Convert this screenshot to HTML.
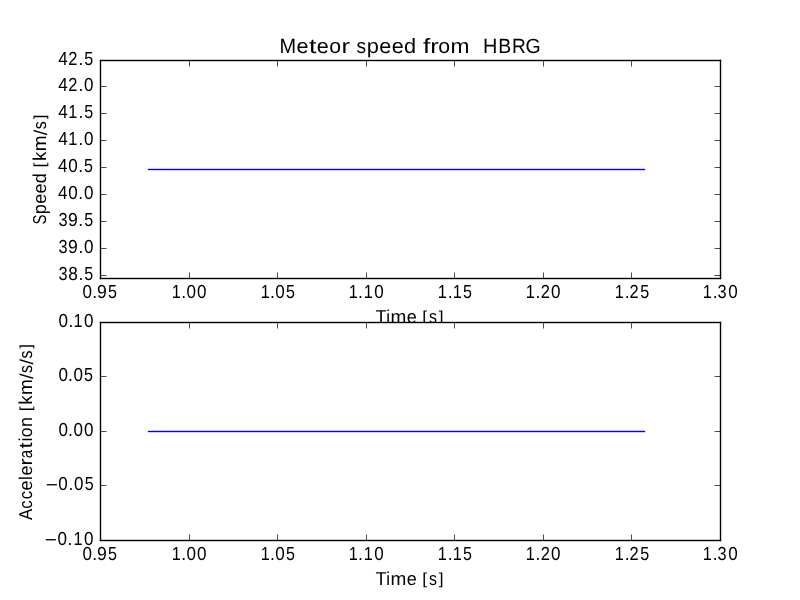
<!DOCTYPE html>
<html><head><meta charset="utf-8"><title>Meteor speed from HBRG</title>
<style>
html,body{margin:0;padding:0;background:#fff;width:800px;height:600px;overflow:hidden}
svg{display:block}
text{font-family:"Liberation Sans",sans-serif;fill:#000}
</style></head><body>
<svg width="800" height="600" viewBox="0 0 800 600" shape-rendering="crispEdges" text-rendering="geometricPrecision">
<defs><filter id="g" x="0" y="0" width="800" height="600" filterUnits="userSpaceOnUse" color-interpolation-filters="sRGB"><feOffset dx="0" dy="0"/></filter></defs>
<rect x="0" y="0" width="800" height="600" fill="#fff"/>
<rect x="100" y="60" width="621" height="219" fill="#fff"/>
<rect x="148" y="168" width="497" height="1" fill="#cdcdff"/>
<rect x="148" y="170" width="497" height="1" fill="#cdcdff"/>
<rect x="147" y="168" width="1" height="1" fill="#f5f5ff"/>
<rect x="147" y="170" width="1" height="1" fill="#f5f5ff"/>
<rect x="147" y="169" width="1" height="1" fill="#cdcdff"/>
<rect x="645" y="168" width="1" height="1" fill="#f5f5ff"/>
<rect x="645" y="170" width="1" height="1" fill="#f5f5ff"/>
<rect x="645" y="169" width="1" height="1" fill="#cdcdff"/>
<rect x="148" y="169" width="497" height="1" fill="#0000ff"/>
<rect x="189" y="272" width="1" height="1" fill="#a6a6a6"/>
<rect x="189" y="273" width="1" height="4" fill="#4d4d4d"/>
<rect x="189" y="66" width="1" height="1" fill="#a6a6a6"/>
<rect x="189" y="62" width="1" height="4" fill="#4d4d4d"/>
<rect x="277" y="272" width="1" height="1" fill="#a6a6a6"/>
<rect x="277" y="273" width="1" height="4" fill="#4d4d4d"/>
<rect x="277" y="66" width="1" height="1" fill="#a6a6a6"/>
<rect x="277" y="62" width="1" height="4" fill="#4d4d4d"/>
<rect x="366" y="272" width="1" height="1" fill="#a6a6a6"/>
<rect x="366" y="273" width="1" height="4" fill="#4d4d4d"/>
<rect x="366" y="66" width="1" height="1" fill="#a6a6a6"/>
<rect x="366" y="62" width="1" height="4" fill="#4d4d4d"/>
<rect x="454" y="272" width="1" height="1" fill="#a6a6a6"/>
<rect x="454" y="273" width="1" height="4" fill="#4d4d4d"/>
<rect x="454" y="66" width="1" height="1" fill="#a6a6a6"/>
<rect x="454" y="62" width="1" height="4" fill="#4d4d4d"/>
<rect x="543" y="272" width="1" height="1" fill="#a6a6a6"/>
<rect x="543" y="273" width="1" height="4" fill="#4d4d4d"/>
<rect x="543" y="66" width="1" height="1" fill="#a6a6a6"/>
<rect x="543" y="62" width="1" height="4" fill="#4d4d4d"/>
<rect x="631" y="272" width="1" height="1" fill="#a6a6a6"/>
<rect x="631" y="273" width="1" height="4" fill="#4d4d4d"/>
<rect x="631" y="66" width="1" height="1" fill="#a6a6a6"/>
<rect x="631" y="62" width="1" height="4" fill="#4d4d4d"/>
<rect x="106" y="86" width="1" height="1" fill="#a6a6a6"/>
<rect x="102" y="86" width="4" height="1" fill="#4d4d4d"/>
<rect x="714" y="86" width="1" height="1" fill="#a6a6a6"/>
<rect x="715" y="86" width="4" height="1" fill="#4d4d4d"/>
<rect x="106" y="113" width="1" height="1" fill="#a6a6a6"/>
<rect x="102" y="113" width="4" height="1" fill="#4d4d4d"/>
<rect x="714" y="113" width="1" height="1" fill="#a6a6a6"/>
<rect x="715" y="113" width="4" height="1" fill="#4d4d4d"/>
<rect x="106" y="140" width="1" height="1" fill="#a6a6a6"/>
<rect x="102" y="140" width="4" height="1" fill="#4d4d4d"/>
<rect x="714" y="140" width="1" height="1" fill="#a6a6a6"/>
<rect x="715" y="140" width="4" height="1" fill="#4d4d4d"/>
<rect x="106" y="167" width="1" height="1" fill="#a6a6a6"/>
<rect x="102" y="167" width="4" height="1" fill="#4d4d4d"/>
<rect x="714" y="167" width="1" height="1" fill="#a6a6a6"/>
<rect x="715" y="167" width="4" height="1" fill="#4d4d4d"/>
<rect x="106" y="194" width="1" height="1" fill="#a6a6a6"/>
<rect x="102" y="194" width="4" height="1" fill="#4d4d4d"/>
<rect x="714" y="194" width="1" height="1" fill="#a6a6a6"/>
<rect x="715" y="194" width="4" height="1" fill="#4d4d4d"/>
<rect x="106" y="221" width="1" height="1" fill="#a6a6a6"/>
<rect x="102" y="221" width="4" height="1" fill="#4d4d4d"/>
<rect x="714" y="221" width="1" height="1" fill="#a6a6a6"/>
<rect x="715" y="221" width="4" height="1" fill="#4d4d4d"/>
<rect x="106" y="248" width="1" height="1" fill="#a6a6a6"/>
<rect x="102" y="248" width="4" height="1" fill="#4d4d4d"/>
<rect x="714" y="248" width="1" height="1" fill="#a6a6a6"/>
<rect x="715" y="248" width="4" height="1" fill="#4d4d4d"/>
<rect x="106" y="275" width="1" height="1" fill="#a6a6a6"/>
<rect x="102" y="275" width="4" height="1" fill="#4d4d4d"/>
<rect x="714" y="275" width="1" height="1" fill="#a6a6a6"/>
<rect x="715" y="275" width="4" height="1" fill="#4d4d4d"/>
<rect x="100" y="59" width="621" height="1" fill="#000" fill-opacity="0.196"/>
<rect x="100" y="61" width="621" height="1" fill="#000" fill-opacity="0.196"/>
<rect x="100" y="277" width="621" height="1" fill="#000" fill-opacity="0.196"/>
<rect x="100" y="279" width="621" height="1" fill="#000" fill-opacity="0.196"/>
<rect x="99" y="60" width="1" height="219" fill="#000" fill-opacity="0.196"/>
<rect x="101" y="60" width="1" height="219" fill="#000" fill-opacity="0.196"/>
<rect x="719" y="60" width="1" height="219" fill="#000" fill-opacity="0.196"/>
<rect x="721" y="60" width="1" height="219" fill="#000" fill-opacity="0.196"/>
<rect x="189" y="277" width="1" height="1" fill="#3e3e3e"/>
<rect x="189" y="61" width="1" height="1" fill="#3e3e3e"/>
<rect x="277" y="277" width="1" height="1" fill="#3e3e3e"/>
<rect x="277" y="61" width="1" height="1" fill="#3e3e3e"/>
<rect x="366" y="277" width="1" height="1" fill="#3e3e3e"/>
<rect x="366" y="61" width="1" height="1" fill="#3e3e3e"/>
<rect x="454" y="277" width="1" height="1" fill="#3e3e3e"/>
<rect x="454" y="61" width="1" height="1" fill="#3e3e3e"/>
<rect x="543" y="277" width="1" height="1" fill="#3e3e3e"/>
<rect x="543" y="61" width="1" height="1" fill="#3e3e3e"/>
<rect x="631" y="277" width="1" height="1" fill="#3e3e3e"/>
<rect x="631" y="61" width="1" height="1" fill="#3e3e3e"/>
<rect x="101" y="86" width="1" height="1" fill="#3e3e3e"/>
<rect x="719" y="86" width="1" height="1" fill="#3e3e3e"/>
<rect x="101" y="113" width="1" height="1" fill="#3e3e3e"/>
<rect x="719" y="113" width="1" height="1" fill="#3e3e3e"/>
<rect x="101" y="140" width="1" height="1" fill="#3e3e3e"/>
<rect x="719" y="140" width="1" height="1" fill="#3e3e3e"/>
<rect x="101" y="167" width="1" height="1" fill="#3e3e3e"/>
<rect x="719" y="167" width="1" height="1" fill="#3e3e3e"/>
<rect x="101" y="194" width="1" height="1" fill="#3e3e3e"/>
<rect x="719" y="194" width="1" height="1" fill="#3e3e3e"/>
<rect x="101" y="221" width="1" height="1" fill="#3e3e3e"/>
<rect x="719" y="221" width="1" height="1" fill="#3e3e3e"/>
<rect x="101" y="248" width="1" height="1" fill="#3e3e3e"/>
<rect x="719" y="248" width="1" height="1" fill="#3e3e3e"/>
<rect x="101" y="275" width="1" height="1" fill="#3e3e3e"/>
<rect x="719" y="275" width="1" height="1" fill="#3e3e3e"/>
<rect x="99" y="59" width="1" height="1" fill="#ebebeb"/>
<rect x="100" y="59" width="1" height="1" fill="#a4a4a4"/>
<rect x="99" y="60" width="1" height="1" fill="#a4a4a4"/>
<rect x="101" y="61" width="1" height="1" fill="#a4a4a4"/>
<rect x="99" y="279" width="1" height="1" fill="#ebebeb"/>
<rect x="100" y="279" width="1" height="1" fill="#a4a4a4"/>
<rect x="99" y="278" width="1" height="1" fill="#a4a4a4"/>
<rect x="101" y="277" width="1" height="1" fill="#a4a4a4"/>
<rect x="721" y="59" width="1" height="1" fill="#ebebeb"/>
<rect x="720" y="59" width="1" height="1" fill="#a4a4a4"/>
<rect x="721" y="60" width="1" height="1" fill="#a4a4a4"/>
<rect x="719" y="61" width="1" height="1" fill="#a4a4a4"/>
<rect x="721" y="279" width="1" height="1" fill="#ebebeb"/>
<rect x="720" y="279" width="1" height="1" fill="#a4a4a4"/>
<rect x="721" y="278" width="1" height="1" fill="#a4a4a4"/>
<rect x="719" y="277" width="1" height="1" fill="#a4a4a4"/>
<rect x="100" y="60" width="621" height="1" fill="#000"/>
<rect x="100" y="278" width="621" height="1" fill="#000"/>
<rect x="100" y="60" width="1" height="219" fill="#000"/>
<rect x="720" y="60" width="1" height="219" fill="#000"/>
<g filter="url(#g)"><text transform="translate(375.49 323.00) scale(0.9738 1.0000)" font-size="18.67">T</text>
<text transform="translate(386.13 323.00) scale(0.9127 1.0000)" font-size="18.67">i</text>
<text transform="translate(390.58 323.00) scale(1.0173 1.0000)" font-size="18.67">m</text>
<text transform="translate(406.73 323.00) scale(0.9644 1.0000)" font-size="18.67">e</text>
<text transform="translate(422.27 323.00) translate(0 -1.11) scale(0.9302 0.8540)" font-size="18.67">[</text>
<text transform="translate(429.03 323.00) scale(0.8559 1.0000)" font-size="18.67">s</text>
<text transform="translate(438.81 323.00) translate(0 -1.11) scale(0.9302 0.8540)" font-size="18.67">]</text></g>
<rect x="100" y="322" width="621" height="219" fill="#fff"/>
<rect x="148" y="430" width="497" height="1" fill="#cdcdff"/>
<rect x="148" y="432" width="497" height="1" fill="#cdcdff"/>
<rect x="147" y="430" width="1" height="1" fill="#f5f5ff"/>
<rect x="147" y="432" width="1" height="1" fill="#f5f5ff"/>
<rect x="147" y="431" width="1" height="1" fill="#cdcdff"/>
<rect x="645" y="430" width="1" height="1" fill="#f5f5ff"/>
<rect x="645" y="432" width="1" height="1" fill="#f5f5ff"/>
<rect x="645" y="431" width="1" height="1" fill="#cdcdff"/>
<rect x="148" y="431" width="497" height="1" fill="#0000ff"/>
<rect x="189" y="534" width="1" height="1" fill="#a6a6a6"/>
<rect x="189" y="535" width="1" height="4" fill="#4d4d4d"/>
<rect x="189" y="328" width="1" height="1" fill="#a6a6a6"/>
<rect x="189" y="324" width="1" height="4" fill="#4d4d4d"/>
<rect x="277" y="534" width="1" height="1" fill="#a6a6a6"/>
<rect x="277" y="535" width="1" height="4" fill="#4d4d4d"/>
<rect x="277" y="328" width="1" height="1" fill="#a6a6a6"/>
<rect x="277" y="324" width="1" height="4" fill="#4d4d4d"/>
<rect x="366" y="534" width="1" height="1" fill="#a6a6a6"/>
<rect x="366" y="535" width="1" height="4" fill="#4d4d4d"/>
<rect x="366" y="328" width="1" height="1" fill="#a6a6a6"/>
<rect x="366" y="324" width="1" height="4" fill="#4d4d4d"/>
<rect x="454" y="534" width="1" height="1" fill="#a6a6a6"/>
<rect x="454" y="535" width="1" height="4" fill="#4d4d4d"/>
<rect x="454" y="328" width="1" height="1" fill="#a6a6a6"/>
<rect x="454" y="324" width="1" height="4" fill="#4d4d4d"/>
<rect x="543" y="534" width="1" height="1" fill="#a6a6a6"/>
<rect x="543" y="535" width="1" height="4" fill="#4d4d4d"/>
<rect x="543" y="328" width="1" height="1" fill="#a6a6a6"/>
<rect x="543" y="324" width="1" height="4" fill="#4d4d4d"/>
<rect x="631" y="534" width="1" height="1" fill="#a6a6a6"/>
<rect x="631" y="535" width="1" height="4" fill="#4d4d4d"/>
<rect x="631" y="328" width="1" height="1" fill="#a6a6a6"/>
<rect x="631" y="324" width="1" height="4" fill="#4d4d4d"/>
<rect x="106" y="376" width="1" height="1" fill="#a6a6a6"/>
<rect x="102" y="376" width="4" height="1" fill="#4d4d4d"/>
<rect x="714" y="376" width="1" height="1" fill="#a6a6a6"/>
<rect x="715" y="376" width="4" height="1" fill="#4d4d4d"/>
<rect x="106" y="431" width="1" height="1" fill="#a6a6a6"/>
<rect x="102" y="431" width="4" height="1" fill="#4d4d4d"/>
<rect x="714" y="431" width="1" height="1" fill="#a6a6a6"/>
<rect x="715" y="431" width="4" height="1" fill="#4d4d4d"/>
<rect x="106" y="485" width="1" height="1" fill="#a6a6a6"/>
<rect x="102" y="485" width="4" height="1" fill="#4d4d4d"/>
<rect x="714" y="485" width="1" height="1" fill="#a6a6a6"/>
<rect x="715" y="485" width="4" height="1" fill="#4d4d4d"/>
<rect x="100" y="321" width="621" height="1" fill="#000" fill-opacity="0.196"/>
<rect x="100" y="323" width="621" height="1" fill="#000" fill-opacity="0.196"/>
<rect x="100" y="539" width="621" height="1" fill="#000" fill-opacity="0.196"/>
<rect x="100" y="541" width="621" height="1" fill="#000" fill-opacity="0.196"/>
<rect x="99" y="322" width="1" height="219" fill="#000" fill-opacity="0.196"/>
<rect x="101" y="322" width="1" height="219" fill="#000" fill-opacity="0.196"/>
<rect x="719" y="322" width="1" height="219" fill="#000" fill-opacity="0.196"/>
<rect x="721" y="322" width="1" height="219" fill="#000" fill-opacity="0.196"/>
<rect x="189" y="539" width="1" height="1" fill="#3e3e3e"/>
<rect x="189" y="323" width="1" height="1" fill="#3e3e3e"/>
<rect x="277" y="539" width="1" height="1" fill="#3e3e3e"/>
<rect x="277" y="323" width="1" height="1" fill="#3e3e3e"/>
<rect x="366" y="539" width="1" height="1" fill="#3e3e3e"/>
<rect x="366" y="323" width="1" height="1" fill="#3e3e3e"/>
<rect x="454" y="539" width="1" height="1" fill="#3e3e3e"/>
<rect x="454" y="323" width="1" height="1" fill="#3e3e3e"/>
<rect x="543" y="539" width="1" height="1" fill="#3e3e3e"/>
<rect x="543" y="323" width="1" height="1" fill="#3e3e3e"/>
<rect x="631" y="539" width="1" height="1" fill="#3e3e3e"/>
<rect x="631" y="323" width="1" height="1" fill="#3e3e3e"/>
<rect x="101" y="376" width="1" height="1" fill="#3e3e3e"/>
<rect x="719" y="376" width="1" height="1" fill="#3e3e3e"/>
<rect x="101" y="431" width="1" height="1" fill="#3e3e3e"/>
<rect x="719" y="431" width="1" height="1" fill="#3e3e3e"/>
<rect x="101" y="485" width="1" height="1" fill="#3e3e3e"/>
<rect x="719" y="485" width="1" height="1" fill="#3e3e3e"/>
<rect x="99" y="321" width="1" height="1" fill="#ebebeb"/>
<rect x="100" y="321" width="1" height="1" fill="#a4a4a4"/>
<rect x="99" y="322" width="1" height="1" fill="#a4a4a4"/>
<rect x="101" y="323" width="1" height="1" fill="#a4a4a4"/>
<rect x="99" y="541" width="1" height="1" fill="#ebebeb"/>
<rect x="100" y="541" width="1" height="1" fill="#a4a4a4"/>
<rect x="99" y="540" width="1" height="1" fill="#a4a4a4"/>
<rect x="101" y="539" width="1" height="1" fill="#a4a4a4"/>
<rect x="721" y="321" width="1" height="1" fill="#ebebeb"/>
<rect x="720" y="321" width="1" height="1" fill="#a4a4a4"/>
<rect x="721" y="322" width="1" height="1" fill="#a4a4a4"/>
<rect x="719" y="323" width="1" height="1" fill="#a4a4a4"/>
<rect x="721" y="541" width="1" height="1" fill="#ebebeb"/>
<rect x="720" y="541" width="1" height="1" fill="#a4a4a4"/>
<rect x="721" y="540" width="1" height="1" fill="#a4a4a4"/>
<rect x="719" y="539" width="1" height="1" fill="#a4a4a4"/>
<rect x="100" y="322" width="621" height="1" fill="#000"/>
<rect x="100" y="540" width="621" height="1" fill="#000"/>
<rect x="100" y="322" width="1" height="219" fill="#000"/>
<rect x="720" y="322" width="1" height="219" fill="#000"/>
<g filter="url(#g)">
<text transform="translate(279.38 53.00) scale(0.9680 1.0000)" font-size="20.60">M</text>
<text transform="translate(296.61 53.00) scale(1.0487 1.0000)" font-size="20.60">e</text>
<text transform="translate(308.93 53.00) scale(1.2976 1.0000)" font-size="20.60">t</text>
<text transform="translate(316.86 53.00) scale(1.0487 1.0000)" font-size="20.60">e</text>
<text transform="translate(329.26 53.00) scale(1.0321 1.0000)" font-size="20.60">o</text>
<text transform="translate(341.41 53.00) scale(1.2439 1.0000)" font-size="20.60">r</text>
<text transform="translate(356.60 53.00) scale(0.9306 1.0000)" font-size="20.60">s</text>
<text transform="translate(366.84 53.00) scale(1.0563 1.0000)" font-size="20.60">p</text>
<text transform="translate(379.36 53.00) scale(1.0487 1.0000)" font-size="20.60">e</text>
<text transform="translate(391.74 53.00) scale(1.0487 1.0000)" font-size="20.60">e</text>
<text transform="translate(404.12 53.00) scale(1.0552 1.0000)" font-size="20.60">d</text>
<text transform="translate(422.90 53.00) scale(1.2748 1.0000)" font-size="20.60">f</text>
<text transform="translate(430.29 53.00) scale(1.2439 1.0000)" font-size="20.60">r</text>
<text transform="translate(438.26 53.00) scale(1.0321 1.0000)" font-size="20.60">o</text>
<text transform="translate(450.60 53.00) scale(1.1062 1.0000)" font-size="20.60">m</text>
<text transform="translate(483.01 53.00) scale(0.9658 1.0000)" font-size="20.60">H</text>
<text transform="translate(498.17 53.00) scale(0.9433 1.0000)" font-size="20.60">B</text>
<text transform="translate(511.94 53.00) scale(0.9286 1.0000)" font-size="20.60">R</text>
<text transform="translate(525.57 53.00) scale(0.9469 1.0000)" font-size="20.60">G</text>
<text transform="translate(82.45 298.00) scale(0.9049 1.0000)" font-size="18.83">0</text>
<text transform="translate(92.36 298.00) scale(0.9288 1.0000)" font-size="18.83">.</text>
<text transform="translate(97.03 298.00) scale(0.9346 1.0000)" font-size="18.83">9</text>
<text transform="translate(108.02 298.00) scale(0.8540 1.0000)" font-size="18.83">5</text>
<text transform="translate(82.53 560.00) scale(0.9049 1.0000)" font-size="18.83">0</text>
<text transform="translate(92.36 560.00) scale(0.9288 1.0000)" font-size="18.83">.</text>
<text transform="translate(97.03 560.00) scale(0.9346 1.0000)" font-size="18.83">9</text>
<text transform="translate(108.02 560.00) scale(0.8540 1.0000)" font-size="18.83">5</text>
<text transform="translate(171.65 298.00) scale(0.8642 1.0000)" font-size="18.83">1</text>
<text transform="translate(181.15 298.00) scale(0.9288 1.0000)" font-size="18.83">.</text>
<text transform="translate(186.58 298.00) scale(0.9049 1.0000)" font-size="18.83">0</text>
<text transform="translate(197.08 298.00) scale(0.9049 1.0000)" font-size="18.83">0</text>
<text transform="translate(171.65 560.00) scale(0.8642 1.0000)" font-size="18.83">1</text>
<text transform="translate(181.15 560.00) scale(0.9288 1.0000)" font-size="18.83">.</text>
<text transform="translate(186.58 560.00) scale(0.9049 1.0000)" font-size="18.83">0</text>
<text transform="translate(197.08 560.00) scale(0.9049 1.0000)" font-size="18.83">0</text>
<text transform="translate(260.73 298.00) scale(0.8642 1.0000)" font-size="18.83">1</text>
<text transform="translate(269.99 298.00) scale(0.9288 1.0000)" font-size="18.83">.</text>
<text transform="translate(275.18 298.00) scale(0.9049 1.0000)" font-size="18.83">0</text>
<text transform="translate(285.88 298.00) scale(0.8540 1.0000)" font-size="18.83">5</text>
<text transform="translate(260.73 560.00) scale(0.8642 1.0000)" font-size="18.83">1</text>
<text transform="translate(269.99 560.00) scale(0.9288 1.0000)" font-size="18.83">.</text>
<text transform="translate(275.18 560.00) scale(0.9049 1.0000)" font-size="18.83">0</text>
<text transform="translate(285.88 560.00) scale(0.8540 1.0000)" font-size="18.83">5</text>
<text transform="translate(348.83 298.00) scale(0.8642 1.0000)" font-size="18.83">1</text>
<text transform="translate(358.09 298.00) scale(0.9288 1.0000)" font-size="18.83">.</text>
<text transform="translate(363.82 298.00) scale(0.8642 1.0000)" font-size="18.83">1</text>
<text transform="translate(374.31 298.00) scale(0.9049 1.0000)" font-size="18.83">0</text>
<text transform="translate(348.83 560.00) scale(0.8642 1.0000)" font-size="18.83">1</text>
<text transform="translate(358.09 560.00) scale(0.9288 1.0000)" font-size="18.83">.</text>
<text transform="translate(363.82 560.00) scale(0.8642 1.0000)" font-size="18.83">1</text>
<text transform="translate(374.31 560.00) scale(0.9049 1.0000)" font-size="18.83">0</text>
<text transform="translate(437.83 298.00) scale(0.8642 1.0000)" font-size="18.83">1</text>
<text transform="translate(447.73 298.00) scale(0.9288 1.0000)" font-size="18.83">.</text>
<text transform="translate(452.74 298.00) scale(0.8642 1.0000)" font-size="18.83">1</text>
<text transform="translate(463.11 298.00) scale(0.8540 1.0000)" font-size="18.83">5</text>
<text transform="translate(437.83 560.00) scale(0.8642 1.0000)" font-size="18.83">1</text>
<text transform="translate(447.73 560.00) scale(0.9288 1.0000)" font-size="18.83">.</text>
<text transform="translate(452.74 560.00) scale(0.8642 1.0000)" font-size="18.83">1</text>
<text transform="translate(463.11 560.00) scale(0.8540 1.0000)" font-size="18.83">5</text>
<text transform="translate(525.79 298.00) scale(0.8642 1.0000)" font-size="18.83">1</text>
<text transform="translate(535.45 298.00) scale(0.9288 1.0000)" font-size="18.83">.</text>
<text transform="translate(540.68 298.00) scale(0.8722 1.0000)" font-size="18.83">2</text>
<text transform="translate(551.03 298.00) scale(0.9049 1.0000)" font-size="18.83">0</text>
<text transform="translate(525.79 560.00) scale(0.8642 1.0000)" font-size="18.83">1</text>
<text transform="translate(535.45 560.00) scale(0.9288 1.0000)" font-size="18.83">.</text>
<text transform="translate(540.68 560.00) scale(0.8722 1.0000)" font-size="18.83">2</text>
<text transform="translate(551.03 560.00) scale(0.9049 1.0000)" font-size="18.83">0</text>
<text transform="translate(614.69 298.00) scale(0.8642 1.0000)" font-size="18.83">1</text>
<text transform="translate(624.67 298.00) scale(0.9288 1.0000)" font-size="18.83">.</text>
<text transform="translate(629.50 298.00) scale(0.8722 1.0000)" font-size="18.83">2</text>
<text transform="translate(640.21 298.00) scale(0.8540 1.0000)" font-size="18.83">5</text>
<text transform="translate(614.69 560.00) scale(0.8642 1.0000)" font-size="18.83">1</text>
<text transform="translate(624.67 560.00) scale(0.9288 1.0000)" font-size="18.83">.</text>
<text transform="translate(629.50 560.00) scale(0.8722 1.0000)" font-size="18.83">2</text>
<text transform="translate(640.21 560.00) scale(0.8540 1.0000)" font-size="18.83">5</text>
<text transform="translate(702.65 298.00) scale(0.8642 1.0000)" font-size="18.83">1</text>
<text transform="translate(712.79 298.00) scale(0.9288 1.0000)" font-size="18.83">.</text>
<text transform="translate(717.55 298.00) scale(0.8690 1.0000)" font-size="18.83">3</text>
<text transform="translate(728.29 298.00) scale(0.9049 1.0000)" font-size="18.83">0</text>
<text transform="translate(702.65 560.00) scale(0.8642 1.0000)" font-size="18.83">1</text>
<text transform="translate(712.79 560.00) scale(0.9288 1.0000)" font-size="18.83">.</text>
<text transform="translate(717.55 560.00) scale(0.8690 1.0000)" font-size="18.83">3</text>
<text transform="translate(728.29 560.00) scale(0.9049 1.0000)" font-size="18.83">0</text>
<text transform="translate(58.19 65.00) scale(0.9050 1.0000)" font-size="18.83">4</text>
<text transform="translate(68.16 65.00) scale(0.8722 1.0000)" font-size="18.83">2</text>
<text transform="translate(78.49 65.00) scale(0.9288 1.0000)" font-size="18.83">.</text>
<text transform="translate(84.28 65.00) scale(0.8540 1.0000)" font-size="18.83">5</text>
<text transform="translate(58.19 91.00) scale(0.9050 1.0000)" font-size="18.83">4</text>
<text transform="translate(68.16 91.00) scale(0.8722 1.0000)" font-size="18.83">2</text>
<text transform="translate(78.49 91.00) scale(0.9288 1.0000)" font-size="18.83">.</text>
<text transform="translate(84.08 91.00) scale(0.9049 1.0000)" font-size="18.83">0</text>
<text transform="translate(58.19 118.00) scale(0.9050 1.0000)" font-size="18.83">4</text>
<text transform="translate(68.35 118.00) scale(0.8642 1.0000)" font-size="18.83">1</text>
<text transform="translate(78.49 118.00) scale(0.9288 1.0000)" font-size="18.83">.</text>
<text transform="translate(84.28 118.00) scale(0.8540 1.0000)" font-size="18.83">5</text>
<text transform="translate(58.19 145.00) scale(0.9050 1.0000)" font-size="18.83">4</text>
<text transform="translate(68.35 145.00) scale(0.8642 1.0000)" font-size="18.83">1</text>
<text transform="translate(78.49 145.00) scale(0.9288 1.0000)" font-size="18.83">.</text>
<text transform="translate(84.08 145.00) scale(0.9049 1.0000)" font-size="18.83">0</text>
<text transform="translate(58.03 172.00) scale(0.9050 1.0000)" font-size="18.83">4</text>
<text transform="translate(68.21 172.00) scale(0.9049 1.0000)" font-size="18.83">0</text>
<text transform="translate(78.36 172.00) scale(0.9288 1.0000)" font-size="18.83">.</text>
<text transform="translate(83.92 172.00) scale(0.8540 1.0000)" font-size="18.83">5</text>
<text transform="translate(58.03 199.00) scale(0.9050 1.0000)" font-size="18.83">4</text>
<text transform="translate(68.21 199.00) scale(0.9049 1.0000)" font-size="18.83">0</text>
<text transform="translate(78.36 199.00) scale(0.9288 1.0000)" font-size="18.83">.</text>
<text transform="translate(83.96 199.00) scale(0.9049 1.0000)" font-size="18.83">0</text>
<text transform="translate(58.48 226.00) scale(0.8690 1.0000)" font-size="18.83">3</text>
<text transform="translate(67.89 226.00) scale(0.9346 1.0000)" font-size="18.83">9</text>
<text transform="translate(78.33 226.00) scale(0.9288 1.0000)" font-size="18.83">.</text>
<text transform="translate(84.28 226.00) scale(0.8540 1.0000)" font-size="18.83">5</text>
<text transform="translate(58.48 253.00) scale(0.8690 1.0000)" font-size="18.83">3</text>
<text transform="translate(67.89 253.00) scale(0.9346 1.0000)" font-size="18.83">9</text>
<text transform="translate(78.49 253.00) scale(0.9288 1.0000)" font-size="18.83">.</text>
<text transform="translate(84.08 253.00) scale(0.9049 1.0000)" font-size="18.83">0</text>
<text transform="translate(58.48 280.00) scale(0.8690 1.0000)" font-size="18.83">3</text>
<text transform="translate(68.28 280.00) scale(0.9147 1.0000)" font-size="18.83">8</text>
<text transform="translate(78.49 280.00) scale(0.9288 1.0000)" font-size="18.83">.</text>
<text transform="translate(84.28 280.00) scale(0.8540 1.0000)" font-size="18.83">5</text>
<text transform="translate(58.59 327.00) scale(0.9049 1.0000)" font-size="18.83">0</text>
<text transform="translate(68.50 327.00) scale(0.9288 1.0000)" font-size="18.83">.</text>
<text transform="translate(73.60 327.00) scale(0.8642 1.0000)" font-size="18.83">1</text>
<text transform="translate(84.08 327.00) scale(0.9049 1.0000)" font-size="18.83">0</text>
<text transform="translate(58.59 381.00) scale(0.9049 1.0000)" font-size="18.83">0</text>
<text transform="translate(68.10 381.00) scale(0.9288 1.0000)" font-size="18.83">.</text>
<text transform="translate(73.46 381.00) scale(0.9049 1.0000)" font-size="18.83">0</text>
<text transform="translate(84.00 381.00) scale(0.8540 1.0000)" font-size="18.83">5</text>
<text transform="translate(58.59 436.00) scale(0.9049 1.0000)" font-size="18.83">0</text>
<text transform="translate(68.10 436.00) scale(0.9288 1.0000)" font-size="18.83">.</text>
<text transform="translate(73.46 436.00) scale(0.9049 1.0000)" font-size="18.83">0</text>
<text transform="translate(83.96 436.00) scale(0.9049 1.0000)" font-size="18.83">0</text>
<text transform="translate(45.83 491.00) scale(1.1060 1.0000)" font-size="18.83">−</text>
<text transform="translate(58.24 490.00) scale(0.9049 1.0000)" font-size="18.83">0</text>
<text transform="translate(68.40 490.00) scale(0.9288 1.0000)" font-size="18.83">.</text>
<text transform="translate(73.99 490.00) scale(0.9049 1.0000)" font-size="18.83">0</text>
<text transform="translate(84.77 490.00) scale(0.8540 1.0000)" font-size="18.83">5</text>
<text transform="translate(44.63 546.00) scale(1.1060 1.0000)" font-size="18.83">−</text>
<text transform="translate(57.44 545.00) scale(0.9049 1.0000)" font-size="18.83">0</text>
<text transform="translate(67.60 545.00) scale(0.9288 1.0000)" font-size="18.83">.</text>
<text transform="translate(73.57 545.00) scale(0.8642 1.0000)" font-size="18.83">1</text>
<text transform="translate(84.06 545.00) scale(0.9049 1.0000)" font-size="18.83">0</text>
<text transform="translate(375.49 585.00) scale(0.9738 1.0000)" font-size="18.67">T</text>
<text transform="translate(386.13 585.00) scale(0.9127 1.0000)" font-size="18.67">i</text>
<text transform="translate(390.58 585.00) scale(1.0173 1.0000)" font-size="18.67">m</text>
<text transform="translate(406.73 585.00) scale(0.9644 1.0000)" font-size="18.67">e</text>
<text transform="translate(422.27 585.00) translate(0 -1.11) scale(0.9302 0.8540)" font-size="18.67">[</text>
<text transform="translate(429.03 585.00) scale(0.8559 1.0000)" font-size="18.67">s</text>
<text transform="translate(438.81 585.00) translate(0 -1.11) scale(0.9302 0.8540)" font-size="18.67">]</text>
<text transform="translate(46.00 224.60) rotate(-90) scale(0.8000 1.0000)" font-size="18.67">S</text>
<text transform="translate(46.00 214.16) rotate(-90) scale(0.9714 1.0000)" font-size="18.67">p</text>
<text transform="translate(46.00 203.85) rotate(-90) scale(0.9644 1.0000)" font-size="18.67">e</text>
<text transform="translate(46.00 193.60) rotate(-90) scale(0.9644 1.0000)" font-size="18.67">e</text>
<text transform="translate(46.00 183.34) rotate(-90) scale(0.9704 1.0000)" font-size="18.67">d</text>
<text transform="translate(46.00 167.56) rotate(-90) translate(0 -1.11) scale(0.9302 0.8540)" font-size="18.67">[</text>
<text transform="translate(46.00 160.99) rotate(-90) scale(0.9983 1.0000)" font-size="18.67">k</text>
<text transform="translate(46.00 151.25) rotate(-90) scale(1.0173 1.0000)" font-size="18.67">m</text>
<text transform="translate(46.00 135.25) rotate(-90) translate(0 1.36) scale(1.0827 0.9991)" font-size="18.67">/</text>
<text transform="translate(46.00 129.17) rotate(-90) scale(0.8559 1.0000)" font-size="18.67">s</text>
<text transform="translate(46.00 119.23) rotate(-90) translate(0 -1.11) scale(0.9302 0.8540)" font-size="18.67">]</text>
<text transform="translate(32.00 519.90) rotate(-90) scale(0.8994 1.0000)" font-size="18.67">A</text>
<text transform="translate(32.00 508.67) rotate(-90) scale(0.8959 1.0000)" font-size="18.67">c</text>
<text transform="translate(32.00 499.22) rotate(-90) scale(0.8959 1.0000)" font-size="18.67">c</text>
<text transform="translate(32.00 490.47) rotate(-90) scale(0.9644 1.0000)" font-size="18.67">e</text>
<text transform="translate(32.00 479.95) rotate(-90) scale(0.9127 1.0000)" font-size="18.67">l</text>
<text transform="translate(32.00 475.60) rotate(-90) scale(0.9644 1.0000)" font-size="18.67">e</text>
<text transform="translate(32.00 465.40) rotate(-90) scale(1.1440 1.0000)" font-size="18.67">r</text>
<text transform="translate(32.00 458.26) rotate(-90) scale(0.8029 1.0000)" font-size="18.67">a</text>
<text transform="translate(32.00 448.39) rotate(-90) scale(1.1933 1.0000)" font-size="18.67">t</text>
<text transform="translate(32.00 441.57) rotate(-90) scale(0.9127 1.0000)" font-size="18.67">i</text>
<text transform="translate(32.00 437.20) rotate(-90) scale(0.9492 1.0000)" font-size="18.67">o</text>
<text transform="translate(32.00 426.93) rotate(-90) scale(0.9626 1.0000)" font-size="18.67">n</text>
<text transform="translate(32.00 411.31) rotate(-90) translate(0 -1.11) scale(0.9302 0.8540)" font-size="18.67">[</text>
<text transform="translate(32.00 404.74) rotate(-90) scale(0.9983 1.0000)" font-size="18.67">k</text>
<text transform="translate(32.00 395.00) rotate(-90) scale(1.0173 1.0000)" font-size="18.67">m</text>
<text transform="translate(32.00 379.00) rotate(-90) translate(0 1.36) scale(1.0827 0.9991)" font-size="18.67">/</text>
<text transform="translate(32.00 372.92) rotate(-90) scale(0.8559 1.0000)" font-size="18.67">s</text>
<text transform="translate(32.00 364.62) rotate(-90) translate(0 1.36) scale(1.0827 0.9991)" font-size="18.67">/</text>
<text transform="translate(32.00 358.54) rotate(-90) scale(0.8559 1.0000)" font-size="18.67">s</text>
<text transform="translate(32.00 348.77) rotate(-90) translate(0 -1.11) scale(0.9302 0.8540)" font-size="18.67">]</text>
</g>
</svg>
</body></html>
